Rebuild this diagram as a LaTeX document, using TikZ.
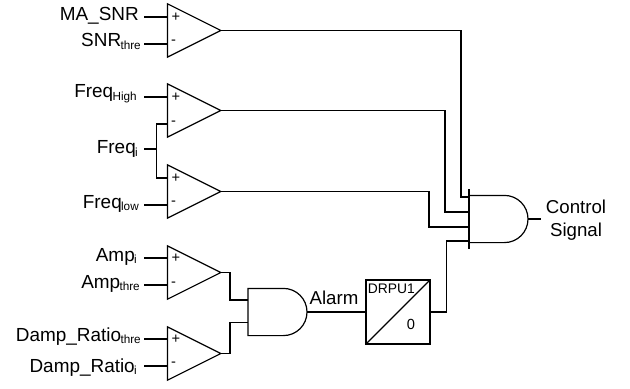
\documentclass[tikz,border=0pt]{standalone}
\usepackage{fontspec}
\setmainfont{Liberation Sans}
\usetikzlibrary{shapes.geometric,shapes.gates.logic.US}
\newcommand{\subtxt}[1]{\kern-0.5pt\raisebox{-1.6pt}{\fontsize{8.8}{9}\selectfont #1}}
\begin{document}
\begin{tikzpicture}[x=0.75pt, y=-0.75pt,
    wire/.style={line width=0.9pt, line join=miter},
    cmp/.style={isosceles triangle, isosceles triangle apex angle=60, isosceles triangle stretches, draw=black, line width=0.9pt, inner sep=0pt, outer sep=0pt, minimum height=40pt, minimum width=40pt, anchor=lower side},
    andgt/.style={and gate US, draw=black, line width=0.9pt, inner sep=0pt, outer sep=0pt, minimum width=44.25pt, minimum height=32.6pt, anchor=west},
    sig/.style={anchor=base east, font=\fontsize{14.2}{17}\selectfont, inner ysep=1pt, inner xsep=#1},
    sgn/.style={font=\fontsize{11}{12}\selectfont, inner sep=0pt},
    txt/.style={font=\fontsize{14}{17.25}\selectfont, inner sep=0pt}]

    \useasboundingbox (0,0) rectangle (630,388);

    % Comparators
    \node[cmp] (cmpSNR) at (167.5,30.5) {};
    \node[cmp] (cmpHigh) at (167.5,110.5) {};
    \node[cmp] (cmpLow) at (167.5,191.5) {};
    \node[cmp] (cmpAmp) at (167.5,272.5) {};
    \node[cmp] (cmpDamp) at (167.5,353.5) {};

    % Comparator pins
    \coordinate (SNRp) at (167.5,17);
    \coordinate (SNRm) at (167.5,44);
    \coordinate (Highp) at (167.5,97);
    \coordinate (Highm) at (167.5,124);
    \coordinate (Lowp) at (167.5,178);
    \coordinate (Lowm) at (167.5,205);
    \coordinate (Ampp) at (167.5,258);
    \coordinate (Ampm) at (167.5,285);
    \coordinate (Dampp) at (167.5,339);
    \coordinate (Dampm) at (167.5,366);

    % Signs inside the comparators
    \node[sgn] (sSNRp) at (176,17) {+};
    \node[sgn] (sSNRm) at (173.5,42.5) {-};
    \node[sgn] (sHighp) at (176,97) {+};
    \node[sgn] (sHighm) at (173.5,123) {-};
    \node[sgn] (sLowp) at (176,178) {+};
    \node[sgn] (sLowm) at (173.5,203.5) {-};
    \node[sgn] (sAmpp) at (176,258) {+};
    \node[sgn] (sAmpm) at (173.5,284) {-};
    \node[sgn] (sDampp) at (176,339) {+};
    \node[sgn] (sDampm) at (173.5,364.5) {-};

    % Input labels
    \node[sig=3.75pt] (MA) at (144,20.5) {MA\_SNR};
    \node[sig=2.25pt] (SNRt) at (144,47) {SNR\subtxt{thre}};
    \node[sig=5.25pt] (FHigh) at (144,98) {Freq\subtxt{High}};
    \node[sig=4.5pt] (Fi) at (144,154) {Freq\subtxt{i}};
    \node[sig=3.75pt] (FLow) at (144,208) {Freq\subtxt{low}};
    \node[sig=5.25pt] (Ampi) at (144,261.7) {Amp\subtxt{i}};
    \node[sig=3pt] (Ampt) at (144,288) {Amp\subtxt{thre}};
    \node[sig=2.25pt] (Dampt) at (144,341.7) {Damp\_Ratio\subtxt{thre}};
    \node[sig=5.25pt] (Dampi) at (144,372) {Damp\_Ratio\subtxt{i}};

    % Input wires
    \draw[wire] (MA.east |- SNRp) -- (SNRp);
    \draw[wire] (SNRt.east |- SNRm) -- (SNRm);
    \draw[wire] (FHigh.east |- Highp) -- (Highp);
    \draw[wire] (FLow.east |- Lowm) -- (Lowm);
    \draw[wire] (Ampi.east |- Ampp) -- (Ampp);
    \draw[wire] (Ampt.east |- Ampm) -- (Ampm);
    \draw[wire] (Dampt.east |- Dampp) -- (Dampp);
    \draw[wire] (Dampi.east |- Dampm) -- (Dampm);

    % Shared frequency input
    \coordinate (FiBus) at (156.5,149);
    \draw[wire] (Fi.east |- FiBus) -- (FiBus);
    \draw[wire] (Highm) -| (FiBus) |- (Lowp);

    % Alarm gate and latch
    \node[andgt] (gateAlarm) at (248,312) {};
    \coordinate (gateAlarmA) at (248,300);
    \coordinate (gateAlarmB) at (248,322.5);
    \coordinate (elbowA) at (230,300);
    \coordinate (elbowB) at (230,322.5);
    \draw[wire] (cmpAmp.apex) -| (elbowA) -- (gateAlarmA);
    \draw[wire] (cmpDamp.apex) -| (elbowB) -- (gateAlarmB);
    \node[txt, anchor=base] (alarm) at (334,304) {Alarm};
    \node[draw=black, line width=0.9pt, rectangle, minimum size=48pt, inner sep=0pt, outer sep=0pt] (drpu) at (398,312) {};
    \draw[wire] (drpu.south west) -- (drpu.north east);
    \node[txt, anchor=base west, font=\fontsize{10.4}{12}\selectfont] (drpuName) at (367.6,293) {DRPU1};
    \node[txt, anchor=base, font=\fontsize{11}{12}\selectfont] (drpuZero) at (411,329) {0};
    \draw[wire] (gateAlarm.east) -- (drpu.west);

    % Control gate
    \node[andgt] (gateCtrl) at (469,219) {};
    \coordinate (barTop) at (469,189);
    \coordinate (barBot) at (469,249);
    \draw[wire] (barTop) -- (barBot);
    \coordinate (ctrlA) at (469,197);
    \coordinate (ctrlB) at (469,212);
    \coordinate (ctrlC) at (469,227);
    \coordinate (ctrlD) at (469,241);
    \coordinate (elbowSNR) at (461,197);
    \coordinate (elbowHigh) at (445,212);
    \coordinate (elbowLow) at (429,227);
    \coordinate (elbowDrpu) at (446.5,241);
    \draw[wire] (cmpSNR.apex) -| (elbowSNR) -- (ctrlA);
    \draw[wire] (cmpHigh.apex) -| (elbowHigh) -- (ctrlB);
    \draw[wire] (cmpLow.apex) -| (elbowLow) -- (ctrlC);
    \draw[wire] (drpu.east) -| (elbowDrpu) -- (ctrlD);

    % Output
    \node[txt, align=center, inner xsep=3.4pt, inner ysep=0pt] (ctrlSig) at (576,220) {Control\\Signal};
    \draw[wire] (gateCtrl.east) -- (gateCtrl.east -| ctrlSig.west);
\end{tikzpicture}
\end{document}
